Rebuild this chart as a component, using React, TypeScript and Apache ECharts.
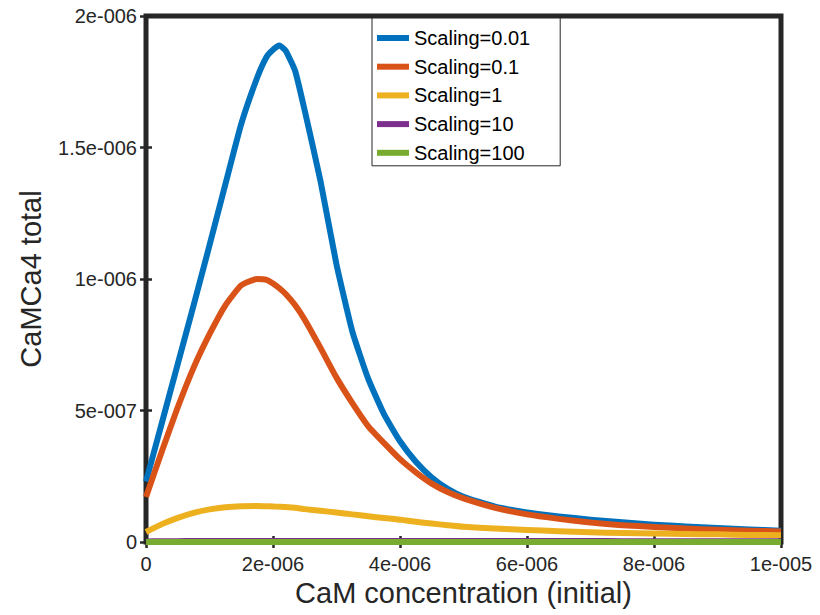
import React, { useEffect, useRef } from "react";
import * as echarts from "echarts";

// x in units of 1e-6 (CaM concentration), y in units of 1e-6 (CaMCa4 total)
const xs = [0, 0.25, 0.5, 0.75, 1.0, 1.25, 1.5, 1.75, 1.9, 2.0, 2.1, 2.2, 2.35, 2.5, 2.75, 3.0, 3.25, 3.5, 3.75, 4.0, 4.25, 4.5, 4.75, 5.0, 5.5, 6.0, 6.5, 7.0, 7.5, 8.0, 8.5, 9.0, 9.5, 10.0];

const seriesNames = ["Scaling=0.01", "Scaling=0.1", "Scaling=1", "Scaling=10", "Scaling=100"];
const seriesColors = ["#0072BD", "#D95319", "#EDB120", "#7E2F8E", "#77AC30"];

const scaling001 = [0.23, 0.453, 0.677, 0.9, 1.128, 1.36, 1.59, 1.765, 1.845, 1.872, 1.888, 1.868, 1.79, 1.64, 1.37, 1.055, 0.8, 0.62, 0.485, 0.383, 0.305, 0.245, 0.202, 0.172, 0.134, 0.112, 0.097, 0.085, 0.075, 0.066, 0.059, 0.053, 0.048, 0.043];
const scaling01 = [0.171, 0.345, 0.512, 0.663, 0.79, 0.9, 0.976, 1.0, 0.997, 0.983, 0.965, 0.943, 0.9, 0.845, 0.737, 0.625, 0.528, 0.44, 0.376, 0.315, 0.265, 0.222, 0.19, 0.166, 0.13, 0.105, 0.088, 0.074, 0.064, 0.057, 0.051, 0.047, 0.043, 0.04];
const scaling1 = [0.038, 0.068, 0.092, 0.111, 0.124, 0.132, 0.136, 0.137, 0.136, 0.135, 0.134, 0.133, 0.13, 0.125, 0.119, 0.112, 0.105, 0.098, 0.091, 0.085, 0.077, 0.07, 0.064, 0.058, 0.051, 0.046, 0.041, 0.037, 0.034, 0.032, 0.03, 0.029, 0.027, 0.026];
const scaling10 = [0.002, 0.003, 0.003, 0.004, 0.004, 0.004, 0.004, 0.004, 0.004, 0.004, 0.004, 0.004, 0.004, 0.004, 0.004, 0.004, 0.004, 0.004, 0.004, 0.004, 0.004, 0.004, 0.004, 0.004, 0.004, 0.004, 0.004, 0.004, 0.003, 0.003, 0.003, 0.003, 0.003, 0.003];
const scaling100 = [0.0002, 0.0003, 0.0003, 0.0004, 0.0004, 0.0004, 0.0004, 0.0004, 0.0004, 0.0004, 0.0004, 0.0004, 0.0004, 0.0004, 0.0004, 0.0004, 0.0004, 0.0004, 0.0004, 0.0004, 0.0004, 0.0004, 0.0004, 0.0004, 0.0004, 0.0004, 0.0004, 0.0004, 0.0003, 0.0003, 0.0003, 0.0003, 0.0003, 0.0003];

const xTickLabels = ["0", "2e-006", "4e-006", "6e-006", "8e-006", "1e-005"];
const yTickLabels = ["0", "5e-007", "1e-006", "1.5e-006", "2e-006"];

const allSeries = [scaling001, scaling01, scaling1, scaling10, scaling100];

const FONT = "'Liberation Sans', Arial, Helvetica, sans-serif";
const AXIS_COLOR = "#262626";

export default function App() {
  const ref = useRef<HTMLDivElement>(null);

  useEffect(() => {
    if (!ref.current) return;
    const chart = echarts.init(ref.current, undefined, { renderer: "svg" });

    const tickStyle = { show: true, inside: true, length: 6, lineStyle: { color: AXIS_COLOR, width: 2.5 } };

    chart.setOption({
      animation: false,
      backgroundColor: "#ffffff",
      textStyle: { fontFamily: FONT },
      grid: {
        left: 146,
        right: 39,
        top: 16,
        bottom: 73,
        show: true,
        borderColor: AXIS_COLOR,
        borderWidth: 5,
        backgroundColor: "transparent",
      },
      legend: {
        orient: "vertical",
        left: 372,
        top: 18,
        icon: "rect",
        itemWidth: 32,
        itemHeight: 6,
        itemGap: 8.7,
        padding: [10, 30, 3, 5],
        borderColor: AXIS_COLOR,
        borderWidth: 1,
        borderRadius: 0,
        backgroundColor: "#ffffff",
        data: seriesNames,
        textStyle: { fontSize: 20, lineHeight: 20, color: "#000000", fontFamily: FONT },
      },
      xAxis: [
        {
          type: "value",
          min: 0,
          max: 10,
          interval: 2,
          position: "bottom",
          name: "CaM concentration (initial)",
          nameLocation: "middle",
          nameGap: 36,
          nameTextStyle: { fontSize: 29, color: AXIS_COLOR, fontFamily: FONT },
          axisLine: { show: false },
          axisTick: tickStyle,
          splitLine: { show: false },
          axisLabel: {
            fontSize: 20,
            color: AXIS_COLOR,
            margin: 12,
            fontFamily: FONT,
            formatter: (v: number) => xTickLabels[Math.round(v / 2)],
          },
        },
        {
          type: "value",
          min: 0,
          max: 10,
          interval: 2,
          position: "top",
          axisLine: { show: false },
          axisTick: tickStyle,
          axisLabel: { show: false },
          splitLine: { show: false },
        },
      ],
      yAxis: [
        {
          type: "value",
          min: 0,
          max: 2,
          interval: 0.5,
          position: "left",
          name: "CaMCa4 total",
          nameLocation: "middle",
          nameGap: 101,
          nameTextStyle: { fontSize: 29, color: AXIS_COLOR, fontFamily: FONT },
          axisLine: { show: false },
          axisTick: tickStyle,
          splitLine: { show: false },
          axisLabel: {
            fontSize: 20,
            color: AXIS_COLOR,
            margin: 9,
            fontFamily: FONT,
            formatter: (v: number) => yTickLabels[Math.round(v / 0.5)],
          },
        },
        {
          type: "value",
          min: 0,
          max: 2,
          interval: 0.5,
          position: "right",
          axisLine: { show: false },
          axisTick: tickStyle,
          axisLabel: { show: false },
          splitLine: { show: false },
        },
      ],
      series: allSeries.map((vals, k) => ({
        name: seriesNames[k],
        type: "line",
        xAxisIndex: 0,
        yAxisIndex: 0,
        data: xs.map((x, i) => [x, vals[i]]),
        smooth: 0.15,
        showSymbol: false,
        symbol: "none",
        clip: false,
        color: seriesColors[k],
        lineStyle: { color: seriesColors[k], width: 6, join: "round" },
        z: 2 + k,
      })),
    });

    return () => {
      chart.dispose();
    };
  }, []);

  return (
    <div
      ref={ref}
      style={{ position: "absolute", left: 0, top: 0, width: 820, height: 615 }}
    />
  );
}
